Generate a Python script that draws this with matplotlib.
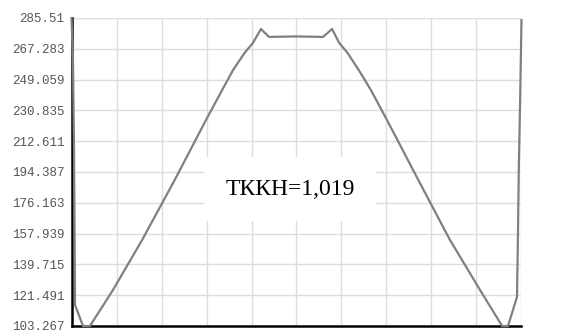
import matplotlib
matplotlib.use("Agg")
from matplotlib import pyplot as plt

# curve points (x in grid units, y in value units)
xs = [0.0, 0.022, 0.033, 0.056, 0.078, 0.256, 0.41, 0.92, 1.57, 2.3, 2.99, 3.35, 3.59, 3.85, 4.03,
      4.21, 4.39, 4.99, 5.59, 5.79,
      5.95, 6.13, 6.41, 6.65, 7.01, 7.7, 8.41, 9.08, 9.57, 9.70, 9.90, 9.92, 9.94, 9.97, 10.0]
ys = [285.51, 269.5, 259.5, 207.4, 115.7, 103.267, 103.267, 124.5, 154.2, 190.0, 225.2, 243.0, 254.7, 265.0, 270.7,
      279.0, 274.3, 274.6, 274.3, 279.0,
      270.7, 265.0, 253.6, 243.0, 225.2, 190.0, 154.2, 124.5, 103.267, 103.267, 120.4, 154.2, 195.6, 237.0, 284.3]

y_ticks = [103.267, 121.491, 139.715, 157.939, 176.163, 194.387, 212.611, 230.835, 249.059, 267.283, 285.51]
y_labels = ["103.267", "121.491", "139.715", "157.939", "176.163", "194.387",
            "212.611", "230.835", "249.059", "267.283", "285.51"]
x_ticks = list(range(11))

annotation = "ТККН=1,019"

fig = plt.figure(figsize=(5.73, 3.35), dpi=100)
ax = fig.add_axes([0.1248, 0.0269, 0.7853, 0.9194])

ax.plot(xs, ys, color="#808080", lw=1.6, zorder=3, clip_on=False, solid_joinstyle="round")

ax.set_xlim(0, 10)
ax.set_ylim(y_ticks[0], y_ticks[-1])
ax.set_xticks(x_ticks)
ax.set_xticklabels([])
ax.set_yticks(y_ticks)
ax.set_yticklabels(y_labels, family="Liberation Mono", fontsize=9, color="#555555")
ax.tick_params(length=0, pad=5)
ax.grid(True, color="#dddddd", lw=1)
ax.set_axisbelow(True)

for side in ("top", "right"):
    ax.spines[side].set_visible(False)
for side in ("left", "bottom"):
    ax.spines[side].set_color("black")
    ax.spines[side].set_linewidth(1.8)

ax.text(4.86, 184.3, annotation, family="Liberation Serif", fontsize=17, ha="center", va="center",
        zorder=4, bbox=dict(facecolor="white", edgecolor="none", boxstyle="square,pad=0.9"))

fig.savefig("out.png", dpi=100)
